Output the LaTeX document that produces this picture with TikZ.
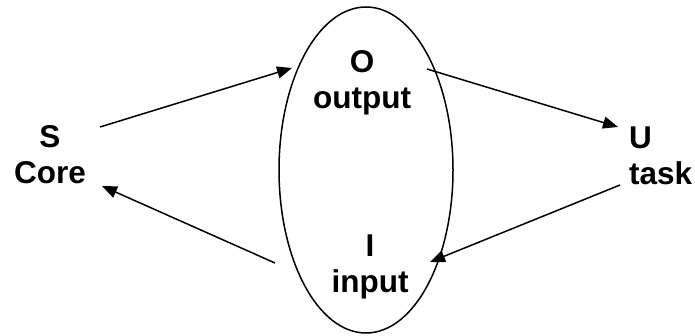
\documentclass[tikz,border=0pt]{standalone}
\usepackage{fontspec}
\setmainfont{Liberation Sans}
\usepackage{tikz}
\usetikzlibrary{positioning, calc}
\usetikzlibrary{shapes, arrows.meta}
\tikzstyle{arrow}=[line width=1.5pt,draw=black, -{Triangle[length=15pt, width=12pt]}]
\tikzstyle{station}=[inner sep=0pt, align=center, font=\bfseries\fontsize{31.5pt}{36pt}\selectfont]
\tikzstyle{cycle}=[ellipse, draw, line width=1.5pt, inner sep=0pt, minimum width=174pt, minimum height=326pt]

\begin{document}
\begin{tikzpicture}[x=1pt, y=-1pt]
        \useasboundingbox (0,0) rectangle (695,336);
        % the loop in the middle
        \node[cycle] (loop) at (366,170) {};
        \node[station] (output) at (362,83) {O\\output};
        \node[station] (input) at (370,267) {I\\input};

        % left and right
        \node[station] (core) at (50,155) {S\\Core};
        \node[station, align=left, anchor=west] (task) at (629,156) {U\\task};

        % arrow ends
        \coordinate (s out) at (100,127);
        \coordinate (o in) at (292,68);
        \coordinate (o out) at (427,69);
        \coordinate (u in) at (618,127);
        \coordinate (u out) at (620,185);
        \coordinate (i in) at (430,262);
        \coordinate (i out) at (275,263);
        \coordinate (s in) at (102,186);

        \draw[arrow] (s out) -- (o in);
        \draw[arrow] (o out) -- (u in);
        \draw[arrow] (u out) -- (i in);
        \draw[arrow] (i out) -- (s in);
    \end{tikzpicture}
\end{document}
